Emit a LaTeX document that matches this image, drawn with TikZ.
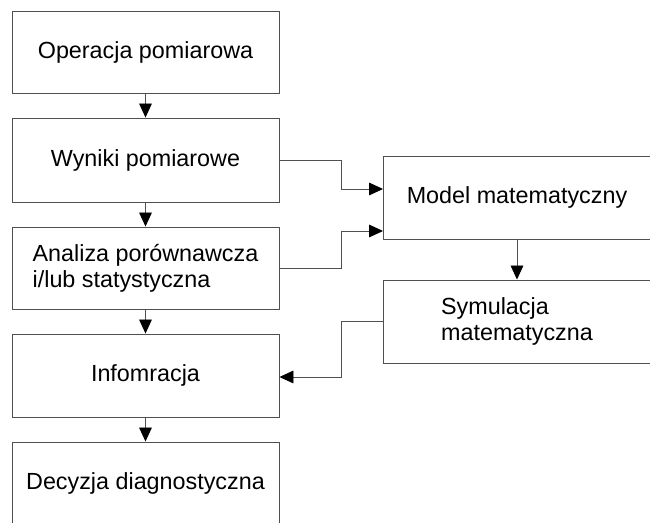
\documentclass[tikz,border=0pt]{standalone}
\usepackage{fontspec}
\setmainfont{Liberation Sans}
\usetikzlibrary{arrows.meta,calc}
\definecolor{linec}{HTML}{505050}
\begin{document}
\begin{tikzpicture}[x=0.75pt,y=-0.75pt,
  box/.style={draw=linec,line width=0.7pt,minimum width=200.25pt,inner sep=0pt,
    font=\fontsize{17.5pt}{19.5pt}\selectfont,text=black},
  conn/.style={draw=linec,line width=0.7pt,-{Triangle[length=10.5pt,width=9.5pt,color=black]}}]
\useasboundingbox (0,0) rectangle (650,523);
\clip (0,0) rectangle (650,523);
\node[box,minimum height=61.5pt] (op) at (145.5,52) {Operacja pomiarowa};
\node[box,minimum height=63pt] (wy) at (145.5,160) {Wyniki pomiarowe};
\node[box,minimum height=61.5pt,align=left] (an) at (145.5,268) {Analiza porównawcza\\i/lub statystyczna};
\node[box,minimum height=62.25pt] (in) at (145.5,375.5) {Infomracja};
\node[box,minimum height=62.25pt] (de) at (145.5,483.5) {Decyzja diagnostyczna};
\node[box,minimum height=62.25pt] (mo) at (517,197.5) {Model matematyczny};
\node[box,minimum height=62.25pt,align=left] (sy) at (517,321.5) {Symulacja\\matematyczna};
\draw[conn] (op.south) -- (wy.north);
\draw[conn] (wy.south) -- (an.north);
\draw[conn] (an.south) -- (in.north);
\draw[conn] (in.south) -- (de.north);
\draw[conn] (mo.south) -- (sy.north);
\draw[conn] (wy.east) -- ++(62,0) |- ($(mo.west)+(0,-8.5)$);
\draw[conn] (an.east) -- ++(62,0) |- ($(mo.west)+(0,33.5)$);
\draw[conn] (sy.west) -- ++(-42,0) |- ($(in.east)+(0,1.5)$);
\end{tikzpicture}
\end{document}
